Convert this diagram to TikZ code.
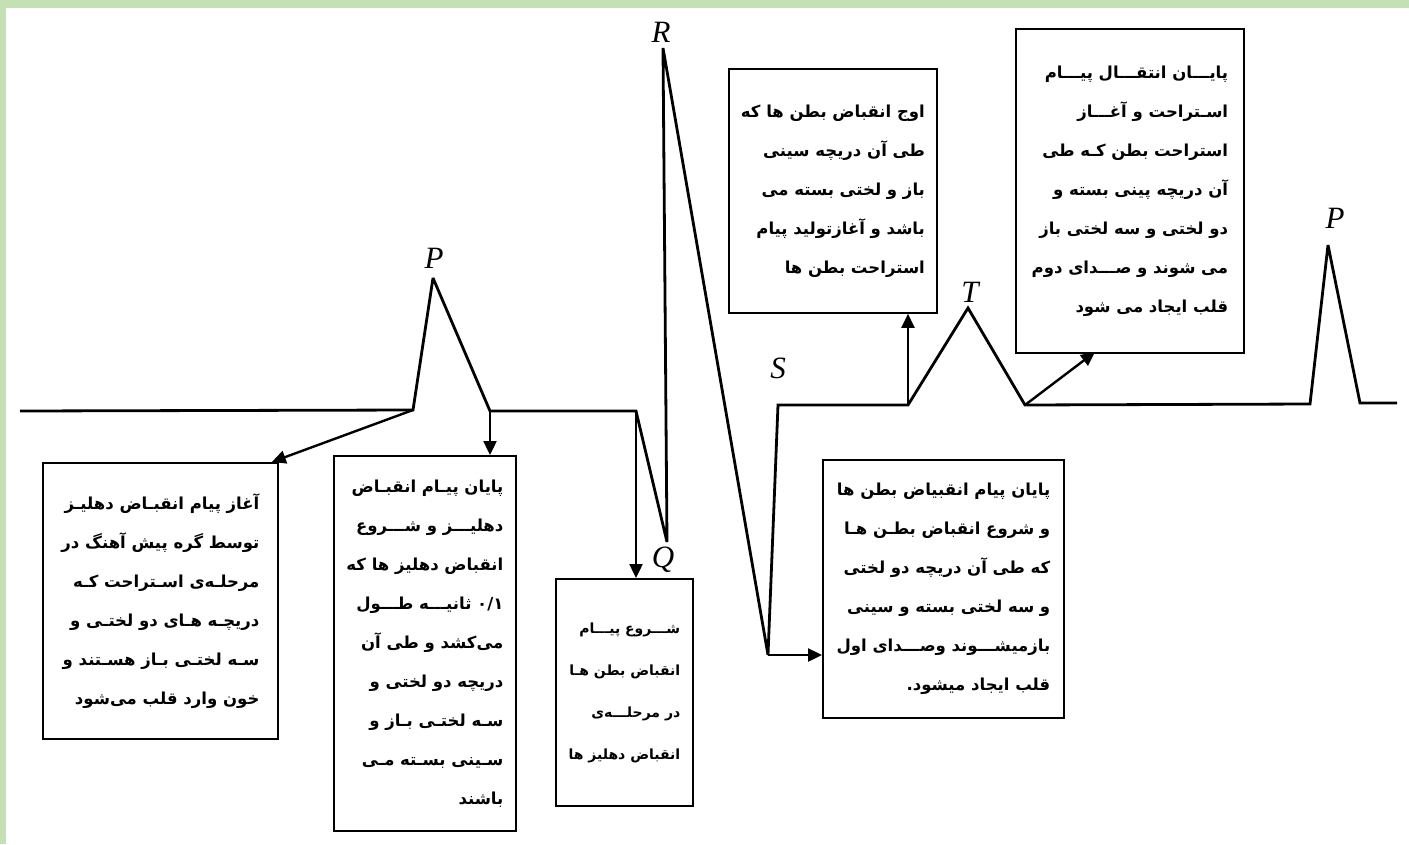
\documentclass[tikz,border=0pt]{standalone}
\usepackage{fontspec}
\usetikzlibrary{arrows.meta}
\newfontfamily\arabicfont[Script=Arabic]{DejaVu Sans}
\newfontfamily\wavefont{Liberation Serif}
\TeXXeTstate=1
\definecolor{bandgreen}{RGB}{197,224,180}
\newcommand{\rl}[1]{\beginR #1\endR}

\begin{document}
\begin{tikzpicture}[x=1pt,y=-1pt,
  trace/.style={line width=2.8pt,line join=miter,miter limit=3},
  infobox/.style={draw,line width=1.8pt,anchor=north west,inner sep=0pt,
    font=\arabicfont\bfseries\fontsize{16.5}{39}\selectfont,align=right},
  wave/.style={font=\wavefont\fontsize{31}{36}\selectfont\itshape},
  arr/.style={line width=2.4pt,-{Triangle[length=14pt,width=13pt]}}]
  \useasboundingbox (0,0) rectangle (1409,844);
  \fill[white] (0,0) rectangle (1409,844);
  \fill[bandgreen] (0,0) rectangle (1409,8);
  \fill[bandgreen] (0,0) rectangle (6,844);

  % points of the trace
  \coordinate (start) at (20,411);
  \coordinate (pa) at (413,410);
  \coordinate (ptop) at (433,278);
  \coordinate (pb) at (490,411);
  \coordinate (qa) at (636,411);
  \coordinate (qbot) at (667,542);
  \coordinate (rtop) at (663,48);
  \coordinate (sbot) at (768,655);
  \coordinate (sa) at (778,405);
  \coordinate (ta) at (908,405);
  \coordinate (ttop) at (968,308);
  \coordinate (tb) at (1025,405);
  \coordinate (p2a) at (1310,404);
  \coordinate (p2top) at (1328,245);
  \coordinate (p2b) at (1360,403);
  \coordinate (finish) at (1397,403);

  \draw[trace] (start) -- (pa) -- (ptop) -- (pb) -- (qa) -- (qbot) -- (rtop)
    -- (sbot) -- (sa) -- (ta) -- (ttop) -- (tb) -- (p2a) -- (p2top) -- (p2b) -- (finish);

  % wave letters
  \node[wave] (lp1) at (434,258) {P};
  \node[wave] (lr) at (661,32) {R};
  \node[wave] (lq) at (663,560) {Q};
  \node[wave] (ls) at (778,368) {S};
  \node[wave] (lt) at (970,292) {T};
  \node[wave] (lp2) at (1335,218) {P};

  % boxes
  \node[infobox,minimum width=235pt,minimum height=276pt] (atrial) at (42,462)
    {\rl{آغاز پیام انقبـاض دهلیـز}\\
     \rl{توسط گره پیش آهنگ در}\\
     \rl{مرحلـه‌ی اسـتراحت کـه}\\
     \rl{دریچـه هـای دو لختـی و}\\
     \rl{سـه لختـی بـاز هسـتند و}\\
     \rl{خون وارد قلب می‌شود}};
  \node[infobox,minimum width=182pt,minimum height=375pt] (atrend) at (333,455)
    {\rl{پایان پیـام انقبـاض}\\
     \rl{دهلیـــز و شـــروع}\\
     \rl{انقباض دهلیز ها که}\\
     \rl{۰/۱ ثانیـــه طـــول}\\
     \rl{می‌کشد و طی آن}\\
     \rl{دریچه دو لختی و}\\
     \rl{سـه لختـی بـاز و}\\
     \rl{سـینی بسـته مـی}\\
     \rl{باشند}};
  \node[infobox,minimum width=137pt,minimum height=227pt,
    font=\arabicfont\bfseries\fontsize{14}{42}\selectfont] (ventstart) at (555,578)
    {\rl{شـــروع پیـــام}\\
     \rl{انقباض بطن هـا}\\
     \rl{در مرحلـــه‌ی}\\
     \rl{انقباض دهلیز ها}};
  \node[infobox,minimum width=208pt,minimum height=244pt] (ventpeak) at (728,68)
    {\rl{اوج انقباض بطن ها که}\\
     \rl{طی آن دریچه سینی}\\
     \rl{باز و لختی بسته می}\\
     \rl{باشد و  آغازتولید پیام}\\
     \rl{استراحت بطن ها}};
  \node[infobox,minimum width=241pt,minimum height=258pt] (ventend) at (822,459)
    {\rl{پایان پیام انقبیاض بطن ها}\\
     \rl{و شروع انقباض بطـن هـا}\\
     \rl{که طی آن دریچه دو لختی}\\
     \rl{و سه لختی بسته و سینی}\\
     \rl{بازمیشـــوند وصـــدای اول}\\
     \rl{قلب ایجاد میشود.}};
  \node[infobox,minimum width=228pt,minimum height=324pt] (relax) at (1015,28)
    {\rl{پایـــان انتقـــال پیـــام}\\
     \rl{اسـتراحت و آغـــاز}\\
     \rl{استراحت بطن کـه طی}\\
     \rl{آن دریچه پینی بسته و}\\
     \rl{دو لختی و سه لختی باز}\\
     \rl{می شوند و صـــدای دوم}\\
     \rl{قلب ایجاد می شود}};

  % arrows from the trace to the boxes
  \coordinate (relaxin) at (1095,352);
  \draw[arr] (pa) -- ([xshift=-7pt]atrial.north east);
  \draw[arr] (pb) -- (pb |- atrend.north);
  \draw[arr] (qa) -- (qa |- ventstart.north);
  \draw[arr] (ta) -- (ta |- ventpeak.south);
  \draw[arr] (sbot) -- (sbot -| ventend.west);
  \draw[arr] (tb) -- (relaxin);
\end{tikzpicture}
\end{document}
